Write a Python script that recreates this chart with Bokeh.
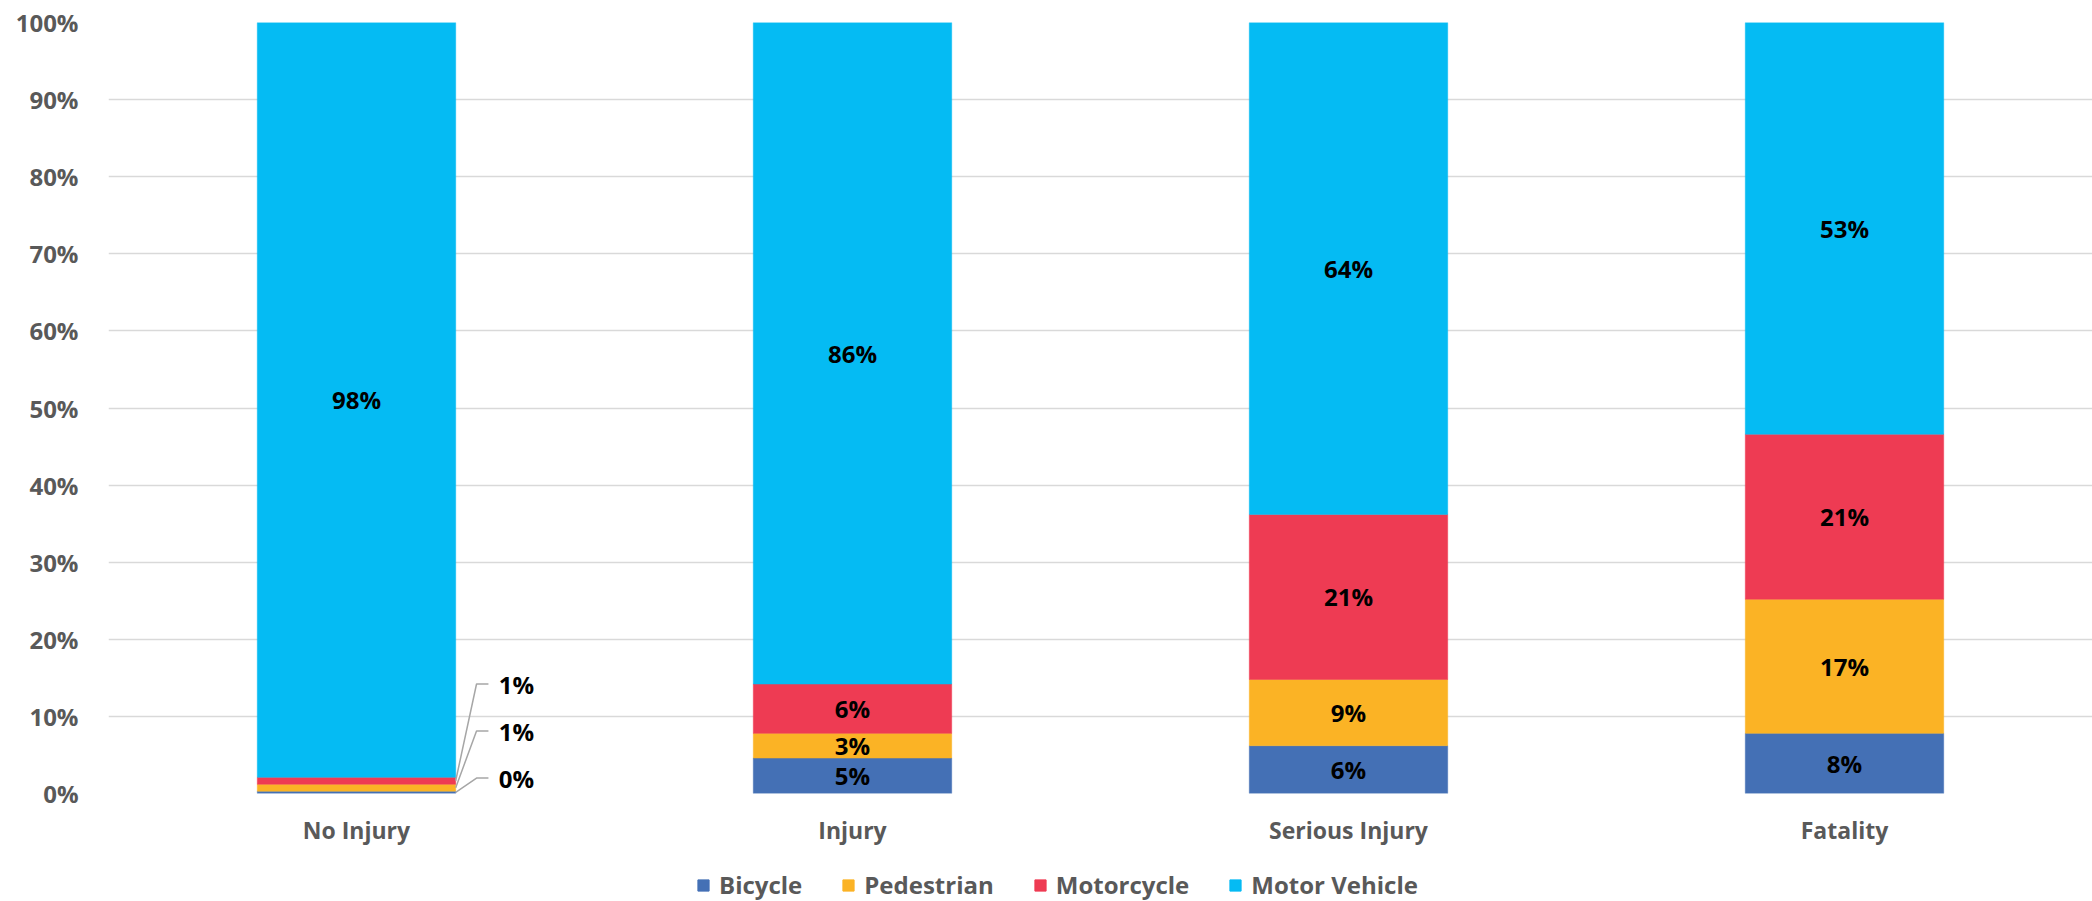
from bokeh.plotting import figure
from bokeh.layouts import column
from bokeh.models import (ColumnDataSource, Range1d, FixedTicker, PrintfTickFormatter,
                          Legend, LegendItem)
from bokeh.core.properties import value
from bokeh.embed import file_html
from bokeh.resources import INLINE

# Share of crash victims by road-user type, per injury severity (percent)
categories = ["No Injury", "Injury", "Serious Injury", "Fatality"]
modes = ["Bicycle", "Pedestrian", "Motorcycle", "Motor Vehicle"]
bicycle = [0.3, 4.6, 6.2, 7.8]
pedestrian = [0.9, 3.2, 8.6, 17.4]
motorcycle = [0.9, 6.4, 21.4, 21.4]
motor_vehicle = [97.9, 85.8, 63.8, 53.4]
y_ticks = list(range(0, 101, 10))

colors = ["#4470B5", "#FBB325", "#EE3B53", "#05BBF3"]
FONT = "Open Sans"
GRAY = "#595959"
BAR_WIDTH = 0.4

series = [bicycle, pedestrian, motorcycle, motor_vehicle]
xs = [i + 0.5 for i in range(len(categories))]

data = {"x": xs}
for name, vals in zip(modes, series):
    data[name] = vals
source = ColumnDataSource(data)

p = figure(width=2092, height=865, output_backend="svg", toolbar_location=None,
           x_range=Range1d(0, len(categories)), y_range=Range1d(0, 100))
p.min_border_left = 108
p.min_border_right = 0
p.min_border_top = 22
p.min_border_bottom = 72
p.outline_line_color = None
p.background_fill_color = "white"
p.border_fill_color = "white"

renderers = p.vbar_stack(modes, x="x", width=BAR_WIDTH, color=colors, source=source,
                         line_width=0.5)

# axes
p.yaxis.ticker = FixedTicker(ticks=y_ticks)
p.yaxis.formatter = PrintfTickFormatter(format="%d%%")
p.xaxis.ticker = FixedTicker(ticks=xs)
p.xaxis.major_label_overrides = {x: c for x, c in zip(xs, categories)}
for ax in (p.xaxis[0], p.yaxis[0]):
    ax.axis_line_color = None
    ax.major_tick_line_color = None
    ax.minor_tick_line_color = None
    ax.major_tick_out = 0
    ax.major_tick_in = 0
    ax.major_label_text_font = FONT
    ax.major_label_text_font_style = "bold"
    ax.major_label_text_color = GRAY
p.yaxis.major_label_text_font_size = "24px"
p.yaxis.major_label_standoff = 30
p.xaxis.major_label_text_font_size = "23px"
p.xaxis.major_label_standoff = 20

p.xgrid.grid_line_color = None
p.ygrid.ticker = FixedTicker(ticks=y_ticks)
p.ygrid.grid_line_color = "#d9d9d9"
p.ygrid.grid_line_width = 1.5

# data labels: centred inside each segment, or pulled out with leader lines when the
# segment is too thin to hold its text
SMALL = 2.0
in_x, in_y, in_t = [], [], []
out_x, out_y, out_t = [], [], []
lead_xs, lead_ys = [], []
for ci, x in enumerate(xs):
    base = 0.0
    n_out = 0
    for vals in series:
        v = vals[ci]
        mid = base + v / 2
        label = f"{v:.0f}%"
        if v < SMALL:
            right = x + BAR_WIDTH / 2
            ly = 2.0 + 6.1 * n_out
            lead_xs.append([right, right + 0.042, right + 0.066])
            lead_ys.append([mid, ly, ly])
            out_x.append(right + 0.087)
            out_y.append(ly)
            out_t.append(label)
            n_out += 1
        else:
            in_x.append(x)
            in_y.append(mid)
            in_t.append(label)
        base += v

p.multi_line(xs=lead_xs, ys=lead_ys, line_color="#a6a6a6", line_width=1.5)
p.text(x=in_x, y=in_y, text=in_t, text_font=value(FONT), text_font_style="bold",
       text_font_size="24px", text_color="black", text_align="center",
       text_baseline="middle")
p.text(x=out_x, y=out_y, text=out_t, text_font=value(FONT), text_font_style="bold",
       text_font_size="24px", text_color="black", text_align="left",
       text_baseline="middle")

# legend strip under the chart; the swatch renderers hold no drawable points and
# only lend their colours to the legend entries
lf = figure(width=2092, height=36, output_backend="svg", toolbar_location=None,
            x_range=Range1d(0, 1), y_range=Range1d(0, 1))
lf.min_border = 0
lf.min_border_left = 0
lf.min_border_right = 0
lf.min_border_top = 0
lf.min_border_bottom = 0
lf.axis.visible = False
lf.grid.grid_line_color = None
lf.outline_line_color = None
lf.border_fill_color = "white"
nan = float("nan")
swatches = [lf.vbar(x=[nan], top=[nan], width=1, fill_color=c, line_color=c) for c in colors]

legend = Legend(items=[LegendItem(label=m, renderers=[r]) for m, r in zip(modes, swatches)],
                orientation="horizontal", location=(588, 0))
legend.label_text_font = FONT
legend.label_text_font_style = "bold"
legend.label_text_font_size = "24px"
legend.label_text_color = GRAY
legend.glyph_width = 14
legend.glyph_height = 14
legend.label_standoff = 9
legend.spacing = 39
legend.padding = 0
legend.margin = 0
legend.border_line_color = None
legend.background_fill_alpha = 0
lf.add_layout(legend, "center")

layout = column(p, lf, spacing=0)
open("out.html", "w").write(file_html(layout, INLINE))
